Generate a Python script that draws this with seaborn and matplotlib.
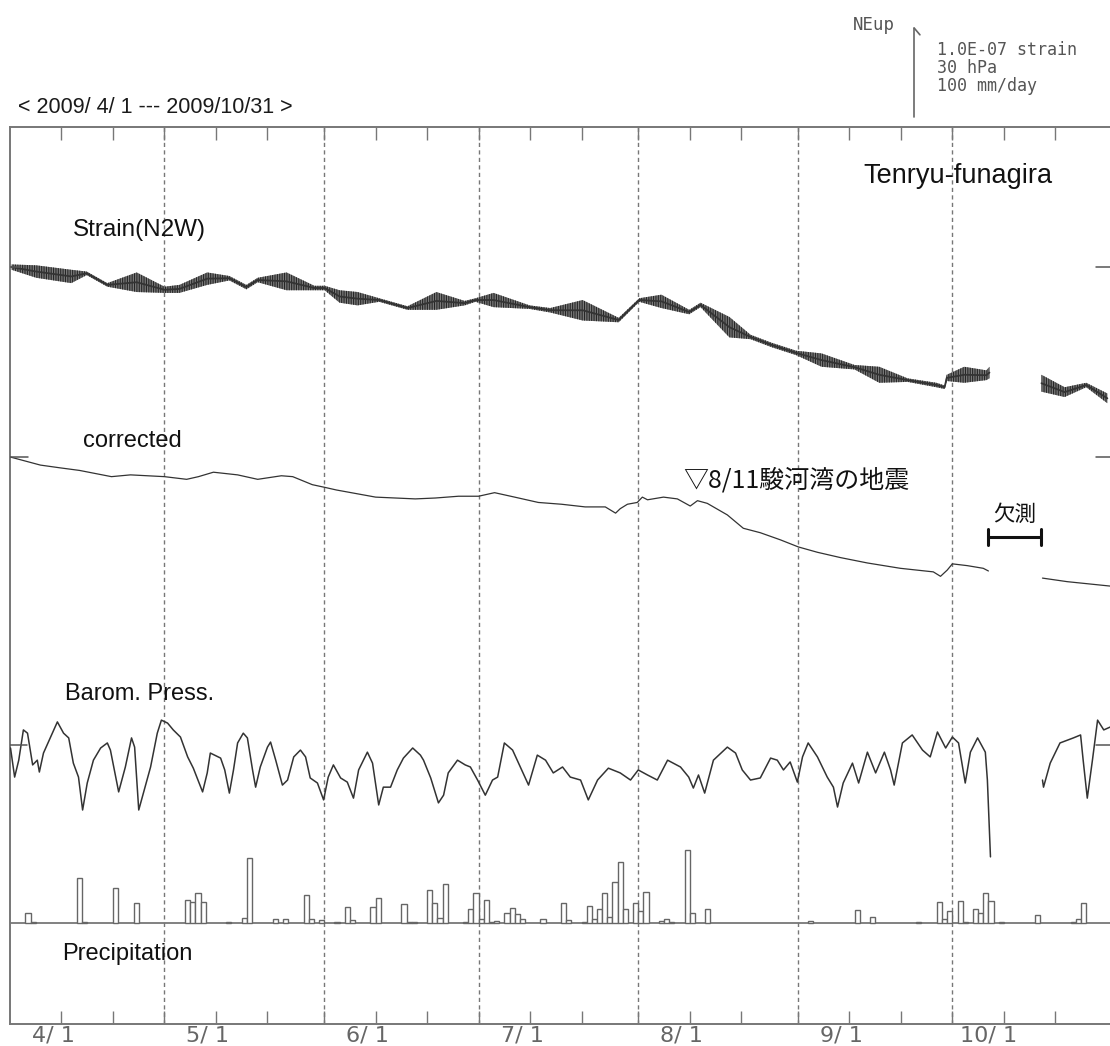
import numpy as np
import pandas as pd
import matplotlib
matplotlib.use("Agg")
import matplotlib.pyplot as plt
import matplotlib.transforms as mtransforms
import seaborn as sns

# ---------------- data ----------------
# x values are days since 2009/4/1
month_starts = [0, 30, 61, 91, 122, 153, 183]
month_labels = ["4/ 1", "5/ 1", "6/ 1", "7/ 1", "8/ 1", "9/ 1", "10/ 1"]
tick_days = [10, 20, 30, 40, 50, 61, 71, 81, 91, 101, 111, 122, 132, 142,
             153, 163, 173, 183, 193, 203]

# Strain (N2W): upper / lower edge of the tidal band, nanostrain rel. to 4/1
strain_day = [0.3, 5.1, 11.9, 14.9, 18.9, 24.6, 30.0, 32.9, 38.3, 42.6, 45.9, 48.1,
              53.7, 59.1, 61.1, 64.0, 67.5, 71.7, 77.2, 82.8, 88.3, 90.4, 93.9,
              100.9, 104.9, 111.2, 118.2, 122.2, 126.5, 131.9, 134.1, 139.7, 143.8,
              147.9, 152.7, 157.6, 164.0, 168.8, 174.3, 179.9, 181.5, 181.9, 185.3,
              189.6, 190.2, np.nan, 200.3, 204.8, 209.0, 213.1]
strain_hi = [3, 2, -3, -5, -18, -6, -22, -20, -6, -10, -20, -12,
             -6, -21, -21, -26, -28, -35, -44, -28, -38, -35, -29,
             -43, -46, -37, -57, -35, -31, -48, -40, -56, -76,
             -85, -94, -97, -110, -112, -125, -130, -133, -121, -112,
             -116, -112, np.nan, -121, -135, -130, -142]
strain_lo = [-3, -12, -18, -9, -22, -28, -29, -29, -20, -15, -25, -17,
             -26, -26, -26, -40, -43, -39, -48, -48, -43, -39, -45,
             -47, -51, -60, -62, -39, -46, -53, -45, -79, -81,
             -90, -99, -112, -115, -130, -129, -135, -137, -128, -130,
             -127, -125, np.nan, -140, -146, -135, -153]

# corrected strain, nanostrain rel. to 4/1
corr_day = [0.1, 5.9, 9.6, 13.5, 19.7, 23.4, 30.0, 34.3, 36.6, 39.5, 44.2, 48.1,
            52.7, 54.9, 58.7, 61.1, 63.4, 71.0, 78.7, 82.6, 87.1, 91.0, 94.1, 98.0,
            102.6, 107.1, 111.7, 115.6, 117.6, 118.5, 119.9, 121.8, 122.8, 123.8,
            126.9, 129.6, 132.1, 133.5, 135.4, 139.3, 142.4, 145.7, 149.6, 153.1,
            156.8, 161.3, 166.5, 172.9, 179.3, 180.7, 182.0, 183.0, 185.9, 189.0,
            190.0, np.nan, 200.5, 205.3, 213.7]
corr_val = [0, -9, -12, -15, -22, -20, -22, -25, -22, -17, -20, -25,
            -21, -22, -31, -34, -37, -45, -47, -46, -44, -44, -40, -45,
            -51, -53, -56, -56, -63, -58, -53, -51, -45, -48,
            -45, -47, -55, -49, -52, -65, -80, -85, -93, -101,
            -107, -113, -119, -125, -129, -134, -127, -120, -122, -125,
            -128, np.nan, -136, -140, -145]

# barometric pressure, hPa
press_day = [0.1, 0.9, 1.7, 2.6, 3.4, 4.4, 5.3, 5.7, 6.5, 7.9, 9.2, 10.4, 11.4, 12.3,
             13.3, 14.1, 15.0, 16.2, 17.6, 18.9, 19.5, 21.1, 22.4, 23.6, 24.2, 25.0,
             25.9, 27.3, 28.6, 29.4, 30.6, 31.7, 33.1, 34.5, 35.6, 37.4, 38.3, 38.9,
             40.9, 41.7, 42.6, 43.4, 44.2, 45.3, 46.1, 47.1, 47.7, 48.6, 50.0, 50.6,
             51.6, 52.9, 53.9, 55.1, 56.4, 57.4, 58.3, 59.7, 60.9, 61.8, 62.8, 64.2,
             65.5, 66.7, 67.7, 69.4, 70.4, 71.6, 72.5, 73.9, 75.2, 76.4, 78.2, 79.7,
             80.3, 81.7, 83.2, 84.2, 85.1, 86.9, 88.4, 89.4, 90.8, 92.3, 93.7, 94.7,
             96.0, 97.6, 99.1, 100.7, 102.4, 104.0, 105.5, 107.3, 108.8, 110.8, 112.3,
             114.1, 116.2, 118.5, 120.5, 122.0, 123.8, 125.7, 127.7, 130.2, 131.8,
             132.7, 133.7, 134.9, 136.6, 139.3, 140.9, 142.2, 143.8, 145.7, 147.7,
             149.0, 150.2, 151.5, 152.9, 153.9, 155.0, 156.8, 158.7, 159.9, 160.7,
             161.8, 163.6, 164.8, 166.5, 168.1, 169.8, 171.0, 171.7, 173.3, 175.2,
             177.2, 178.7, 180.1, 181.7, 183.0, 184.2, 185.5, 186.5, 187.9, 189.4,
             189.8, 190.4, np.nan, 200.5, 200.7, 202.0, 203.9, 206.5, 207.9, 208.4,
             209.2, 210.2, 211.2, 212.4, 213.7]
press_hpa = [1011.0, 1001.2, 1006.9, 1017.1, 1016.0, 1005.3, 1006.9, 1002.9, 1009.3,
             1014.7, 1019.8, 1016.0, 1014.4, 1005.9, 1001.2, 990.1, 999.2, 1006.9,
             1011.0, 1012.7, 1010.3, 996.2, 1004.6, 1014.4, 1011.3, 990.1, 995.8,
             1004.6, 1016.0, 1020.4, 1019.4, 1017.1, 1014.7, 1008.0, 1004.2, 996.2,
             1002.6, 1009.3, 1007.6, 1003.6, 995.8, 1003.6, 1012.7, 1016.0, 1014.4,
             1003.6, 997.8, 1004.6, 1011.3, 1013.0, 1006.9, 998.5, 1000.2, 1008.0,
             1010.3, 1008.0, 1000.9, 999.2, 993.5, 1001.2, 1005.3, 1000.9, 999.5,
             994.1, 1003.6, 1009.6, 1005.9, 991.8, 997.8, 997.8, 1003.6, 1007.6,
             1011.0, 1008.6, 1006.9, 1000.9, 992.5, 995.1, 1002.6, 1006.9, 1005.3,
             1004.6, 1000.2, 995.1, 1000.2, 1001.2, 1012.7, 1010.3, 1004.6, 998.5,
             1008.6, 1006.9, 1002.6, 1004.6, 1001.2, 1000.2, 993.5, 1000.2, 1004.2,
             1002.6, 1000.2, 1003.6, 1001.9, 1000.2, 1006.9, 1004.6, 1001.2, 997.5,
             1001.9, 995.8, 1006.9, 1011.3, 1009.3, 1003.6, 1000.2, 1000.9, 1007.6,
             1006.9, 1003.6, 1006.3, 999.5, 1008.0, 1012.7, 1008.0, 1001.2, 997.8,
             991.1, 999.2, 1005.9, 999.2, 1009.6, 1002.6, 1009.6, 1003.6, 998.5,
             1012.7, 1015.4, 1010.3, 1008.0, 1016.4, 1011.0, 1014.7, 1012.7, 999.2,
             1009.6, 1014.4, 1009.6, 1000.2, 974.3, np.nan, 1000.2, 997.8, 1005.9,
             1012.7, 1014.4, 1015.4, 1006.9, 994.1, 1006.9, 1020.4, 1017.1, 1018.1]

# precipitation, mm/day (bar starts at the given day)
precip_day = [3, 4, 13, 14, 20, 24, 34, 35, 36, 37, 42, 45, 46, 51, 53, 57, 58, 60,
              63, 65, 66, 70, 71, 76, 77, 78, 81, 82, 83, 84, 88, 89, 90, 91, 92,
              93, 94, 96, 97, 98, 99, 103, 107, 108, 111, 112, 113, 114, 115, 116,
              117, 118, 119, 121, 122, 123, 126, 127, 128, 131, 132, 135, 155, 164,
              167, 176, 180, 181, 182, 184, 185, 187, 188, 189, 190, 192, 199, 206,
              207, 208]
precip_mm = [11, 1, 51, 1, 39, 22, 26, 24, 34, 24, 1, 6, 73, 4, 5, 32, 5, 3,
             1, 18, 3, 18, 28, 21, 1, 1, 37, 22, 6, 44, 1, 16, 34, 5, 26,
             1, 2, 11, 17, 10, 4, 4, 22, 3, 1, 19, 4, 16, 34, 7,
             46, 69, 16, 22, 13, 35, 2, 5, 1, 82, 11, 16, 2, 15,
             7, 1, 24, 5, 14, 25, 1, 16, 11, 34, 25, 1, 9, 1,
             5, 22]

gap_days = [190.0, 200.3]          # missing-data interval (欠測)
quake_day = 130.8                   # 8/11 Suruga-bay earthquake label

# ---------------- layout / scales ----------------
W, H = 1110, 1046
UNIT_PX = 0.89                     # 1 plot unit (1e-9 strain) in pixels
STRAIN_REF = (1024 - 267) / UNIT_PX
CORR_REF = (1024 - 457) / UNIT_PX
PRESS_REF = (1024 - 745) / UNIT_PX
PRECIP_REF = (1024 - 923) / UNIT_PX
HPA_BASE = 1012.0
HPA_SCALE = 100 / 30.0              # 30 hPa == 1.0E-07 strain
MM_SCALE = 1.0                      # 100 mm/day == 1.0E-07 strain

sns.set_theme(style="white")
plt.rcParams["font.family"] = ["Liberation Sans", "DejaVu Sans"]
plt.rcParams["hatch.linewidth"] = 0.8

fig = plt.figure(figsize=(W / 100, H / 100), dpi=100)
ax = fig.add_axes([10 / W, (H - 1024) / H, 1102 / W, 897 / H])
ax.set_xlim(0, 214)
ax.set_ylim(0, 1008)

GRID = "#777777"
INK = "#333333"

def seg_frame(days, vals, offset, scale=1.0, base=0.0):
    d = np.asarray(days, float)
    v = np.asarray(vals, float)
    seg = np.cumsum(np.isnan(d))
    m = ~np.isnan(d)
    return pd.DataFrame({"day": d[m], "y": offset + (v[m] - base) * scale, "seg": seg[m]})

# month dashed lines
for d in month_starts[1:]:
    ax.axvline(d, color=GRID, lw=1.0, ls=(0, (3.0, 2.4)), zorder=1)

# precipitation baseline + bars
ax.axhline(PRECIP_REF, color=GRID, lw=1.3, zorder=2)
ax.bar(precip_day, np.asarray(precip_mm) * MM_SCALE, bottom=PRECIP_REF, width=1.0,
       align="edge", facecolor="white", edgecolor="#666666", linewidth=1.0, zorder=3)

# strain: tidal band (hatched) + centre line
sd = np.asarray(strain_day, float)
shi = np.asarray(strain_hi, float)
slo = np.asarray(strain_lo, float)
seg = np.cumsum(np.isnan(sd))
for s in np.unique(seg[~np.isnan(sd)]):
    m = (seg == s) & ~np.isnan(sd)
    ax.fill_between(sd[m], STRAIN_REF + slo[m], STRAIN_REF + shi[m], facecolor="#7a7a7a",
                    edgecolor="#262626", hatch="|||||||", linewidth=0, zorder=4)
strain_mid = (shi + slo) / 2
df_s = seg_frame(strain_day, strain_mid, STRAIN_REF)
sns.lineplot(data=df_s, x="day", y="y", units="seg", estimator=None, sort=False,
             color=INK, lw=1.3, ax=ax, legend=False, zorder=5)

# corrected
df_c = seg_frame(corr_day, corr_val, CORR_REF)
sns.lineplot(data=df_c, x="day", y="y", units="seg", estimator=None, sort=False,
             color=INK, lw=0.9, ax=ax, legend=False, zorder=5)

# pressure
df_p = seg_frame(press_day, press_hpa, PRESS_REF, HPA_SCALE, HPA_BASE)
sns.lineplot(data=df_p, x="day", y="y", units="seg", estimator=None, sort=False,
             color=INK, lw=1.1, ax=ax, legend=False, zorder=5)

# reference level marks at the edges
for ref, ln in [(STRAIN_REF, 2.0), (CORR_REF, 3.5), (PRESS_REF, 3.3)]:
    ax.plot([0, ln], [ref, ref], color="#555555", lw=1.1, zorder=6)
    ax.plot([210.8, 214], [ref, ref], color="#555555", lw=1.1, zorder=6)

# ticks and spines
ax.set_xticks(tick_days)
ax.set_yticks([])
ax.tick_params(axis="x", which="both", direction="in", length=9.7, width=1.0,
               color=GRID, top=True, bottom=True, labelbottom=False, labeltop=False)
for sp in ax.spines.values():
    sp.set_color(GRID)
    sp.set_linewidth(1.4)
ax.set_xlabel("")
ax.set_ylabel("")

# month labels under the axis
trans = mtransforms.blended_transform_factory(ax.transData, ax.transAxes)
for d, lab in zip(month_starts, month_labels):
    ax.text(d + 12.6, -0.002, lab, transform=trans, ha="right", va="top",
            fontsize=16, color="#666666", family="DejaVu Sans", clip_on=False)

# missing-data bracket
gy = (1024 - 537) / UNIT_PX
cap = 8 / UNIT_PX
ax.plot(gap_days, [gy, gy], color="#111111", lw=2.2, solid_capstyle="butt", zorder=7)
for g in gap_days:
    ax.plot([g, g], [gy - cap, gy + cap], color="#111111", lw=2.2, zorder=7)
ax.text(sum(gap_days) / 2, (1024 - 521) / UNIT_PX, "欠測", ha="center", va="baseline",
        fontsize=15.5, color="#111111", family=["Noto Sans CJK JP", "DejaVu Sans"])
ax.text(quake_day, (1024 - 487) / UNIT_PX, "▽8/11駿河湾の地震", ha="left", va="baseline",
        fontsize=18, color="#111111", family=["Noto Sans CJK JP", "DejaVu Sans"])

# scale arrow (1.0E-07 strain / 30 hPa / 100 mm/day) above the frame
arrow_day = 175.6
ytop = (1024 - 117) / UNIT_PX
ax.plot([arrow_day, arrow_day], [ytop, ytop + 100], color="#666666", lw=1.2, clip_on=False)
ax.plot([arrow_day, arrow_day + 1.1], [ytop + 100, ytop + 100 - 7.5], color="#666666",
        lw=1.2, clip_on=False)

def fx(x):
    return x / W

def fy(y):
    return 1 - y / H

fig.text(fx(853), fy(30), "NEup", fontsize=12.5, color="#555555", family="DejaVu Sans Mono",
         va="baseline")
for txt, yb in [("1.0E-07 strain", 55), ("30 hPa", 73), ("100 mm/day", 91)]:
    fig.text(fx(937), fy(yb), txt, fontsize=12, color="#555555",
             family="DejaVu Sans Mono", va="baseline")

fig.text(fx(18), fy(113), "< 2009/ 4/ 1 --- 2009/10/31 >", fontsize=15.5, color="#1a1a1a",
         va="baseline")
fig.text(fx(863), fy(183), "Tenryu-funagira", fontsize=19.5, color="#111111", va="baseline")
fig.text(fx(73), fy(236), "Strain(N2W)", fontsize=17.5, color="#111111", va="baseline")
fig.text(fx(83), fy(447), "corrected", fontsize=17, color="#111111", va="baseline")
fig.text(fx(65), fy(700), "Barom. Press.", fontsize=17, color="#111111", va="baseline")
fig.text(fx(62), fy(960), "Precipitation", fontsize=17, color="#111111", va="baseline")

fig.savefig("out.png", dpi=100, facecolor="white")
